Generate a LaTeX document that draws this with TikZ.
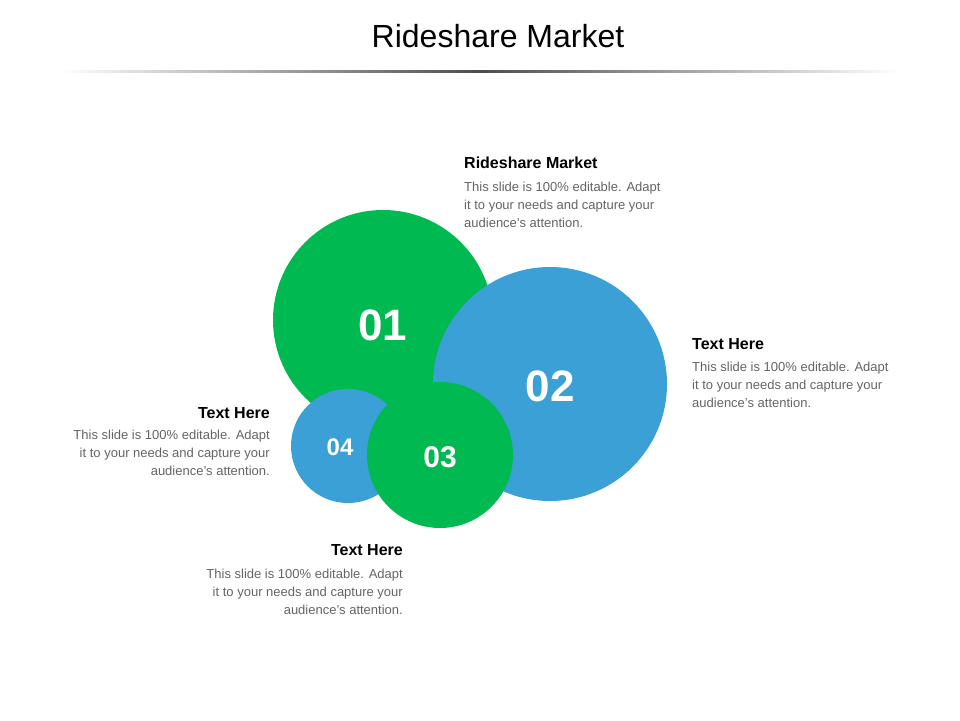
\documentclass[tikz,border=0pt]{standalone}
\usepackage{fontspec}
\setmainfont{Liberation Sans}
\definecolor{gr}{RGB}{0,185,80}
\definecolor{bl}{RGB}{59,160,214}
\definecolor{tx}{RGB}{100,100,100}
\begin{document}
\begin{tikzpicture}[x=1pt,y=-1pt,
  head/.style={font=\fontsize{16}{18}\selectfont\bfseries,inner sep=0},
  body/.style={font=\fontsize{13}{18}\selectfont,text=tx,inner sep=0},
  num/.style={text=white,font=\bfseries}]
\useasboundingbox (0,0) rectangle (960,720);
\node (title) at (498,36) {\fontsize{32}{36}\selectfont Rideshare Market};
\shade[left color=white,right color=black!70,draw=none] (60,70.5) rectangle (480,72);
\shade[left color=black!70,right color=white,draw=none] (480,70.5) rectangle (900,72);
\fill[gr] (383,320) circle (110);
\fill[bl] (550,384) circle (117);
\fill[bl] (348,446) circle (57);
\fill[gr] (440,455) circle (73);
\node[num,font=\fontsize{44}{44}\selectfont\bfseries] (n1) at (383,325) {01};
\node[num,font=\fontsize{44}{44}\selectfont\bfseries] (n2) at (550,386) {02};
\node[num,font=\fontsize{24}{24}\selectfont\bfseries] (n4) at (340,447) {04};
\node[num,font=\fontsize{30}{30}\selectfont\bfseries] (n3) at (440,457) {03};
\node[head,anchor=west] (h1) at (464,163) {Rideshare Market};
\node[body,anchor=north west,align=left] (b1) at (464,182) {This slide is 100\% editable. Adapt\\it to your needs and capture your\\audience's attention.};
\node[head,anchor=west] (h2) at (692,344) {Text Here};
\node[body,anchor=north west,align=left] (b2) at (692,362) {This slide is 100\% editable. Adapt\\it to your needs and capture your\\audience's attention.};
\node[head,anchor=east] (h4) at (270,413) {Text Here};
\node[body,anchor=north east,align=right] (b4) at (270,430) {This slide is 100\% editable. Adapt\\it to your needs and capture your\\audience's attention.};
\node[head,anchor=east] (h3) at (403,550) {Text Here};
\node[body,anchor=north east,align=right] (b3) at (403,569) {This slide is 100\% editable. Adapt\\it to your needs and capture your\\audience's attention.};
\end{tikzpicture}
\end{document}
